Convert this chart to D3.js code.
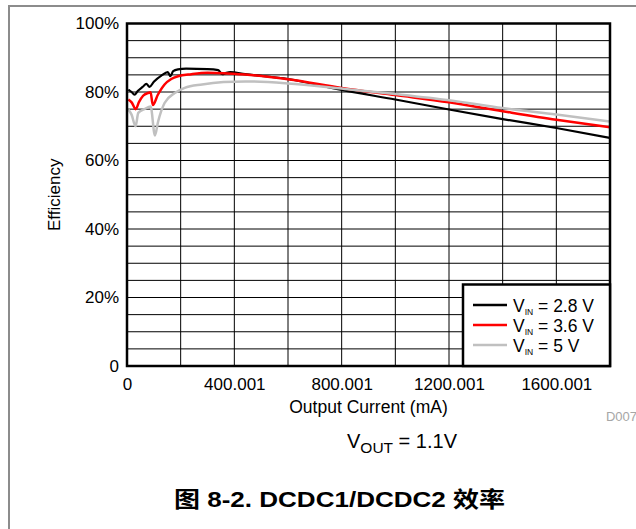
<!DOCTYPE html>
<html>
<head>
<meta charset="utf-8">
<script src="https://cdn.jsdelivr.net/npm/d3@7"></script>
<style>
  body { margin: 0; background: #fff; }
  svg text { font-family: "Liberation Sans", Arial, sans-serif; fill: #000; }
</style>
</head>
<body>
<svg id="chart" width="636" height="529"></svg>
<script>
// efficiency curves, [output current mA, efficiency %]
var vin28 = [[5,80.7],[17,80.0],[28,79.2],[40,80.3],[60,81.6],[72,82.4],[84,81.5],[100,83.0],[128,84.8],
    [152,85.8],[162,84.6],[172,86.1],[190,86.6],[220,86.8],[300,86.7],[340,86.4],[355,85.2],[370,85.6],
    [385,85.8],[440,85.2],[600,83.8],[800,80.6],[1000,77.8],[1200,74.9],[1400,72.1],[1600,69.5],[1800,66.6]];
var vin36 = [[5,77.8],[18,76.9],[32,75.0],[45,77.1],[60,78.9],[78,79.7],[88,79.9],[96,76.2],[115,79.2],
    [140,82.2],[165,83.8],[190,84.6],[240,85.2],[300,85.6],[360,85.5],[440,85.1],[600,83.7],[800,81.2],
    [1000,79.1],[1200,77.0],[1400,74.4],[1600,71.9],[1800,69.7]];
var vin50 = [[5,74.9],[17,73.4],[32,70.0],[42,73.9],[65,75.0],[88,75.8],[104,67.3],[116,71.4],[140,76.8],
    [178,79.7],[215,81.2],[280,82.2],[360,82.9],[440,83.1],[600,82.5],[800,81.0],[1000,79.4],[1200,77.6],
    [1400,75.3],[1600,73.4],[1800,71.4]];

var seriesNames = ["2.8 V", "3.6 V", "5 V"];
var seriesColors = ["#000000", "#ff0000", "#c0c0c0"];

var xTicks = [0, 400.001, 800.001, 1200.001, 1600.001];
var yTicks = [0, 20, 40, 60, 80, 100];

var svg = d3.select("#chart");

// outer frame of the figure
svg.append("path")
    .attr("d", "M9,529 V6 H636")
    .attr("fill", "none")
    .attr("stroke", "#8c8c8c")
    .attr("stroke-width", 2);

// plot area (not "top": that name is taken by window.top)
var pL = 127, pR = 610, pT = 23.5, pB = 366;

var x = d3.scaleLinear().domain([0, 1800]).range([pL, pR]);
var y = d3.scaleLinear().domain([0, 100]).range([pB, pT]);

// grid
svg.append("g").selectAll("line").data(d3.range(200, 1800, 200)).enter()
    .append("line")
    .attr("x1", function(d){ return x(d); }).attr("x2", function(d){ return x(d); })
    .attr("y1", pT).attr("y2", pB)
    .attr("stroke", "#000").attr("stroke-width", 1);
svg.append("g").selectAll("line").data(d3.range(5, 100, 5)).enter()
    .append("line")
    .attr("y1", function(d){ return y(d); }).attr("y2", function(d){ return y(d); })
    .attr("x1", pL).attr("x2", pR)
    .attr("stroke", "#000").attr("stroke-width", 1);

// curves
var line = d3.line()
    .x(function(d){ return x(d[0]); })
    .y(function(d){ return y(d[1]); })
    .curve(d3.curveMonotoneX);

[vin28, vin36, vin50].forEach(function(s, i){
    svg.append("path")
        .datum(s)
        .attr("d", line)
        .attr("fill", "none")
        .attr("stroke", seriesColors[i])
        .attr("stroke-width", i == 0 ? 2.2 : 2.5)
        .attr("stroke-linejoin", "round");
});

// axes labels
var xAxis = d3.axisBottom(x).tickValues(xTicks).tickSize(0).tickPadding(12)
    .tickFormat(function(d){ return d == 0 ? "0" : d3.format(".3f")(d); });
var gx = svg.append("g").attr("transform", "translate(0," + pB + ")").call(xAxis);
gx.select(".domain").remove();
gx.selectAll("text").attr("font-size", 17).attr("font-family", "Liberation Sans, Arial, sans-serif").attr("fill", "#000");

var yAxis = d3.axisLeft(y).tickValues(yTicks).tickSize(0).tickPadding(8)
    .tickFormat(function(d){ return d == 0 ? "0" : d + "%"; });
var gy = svg.append("g").attr("transform", "translate(" + pL + ",0)").call(yAxis);
gy.select(".domain").remove();
gy.selectAll("text").attr("font-size", 17).attr("font-family", "Liberation Sans, Arial, sans-serif").attr("fill", "#000");

// plot border
svg.append("rect")
    .attr("x", pL).attr("y", pT)
    .attr("width", pR - pL).attr("height", pB - pT)
    .attr("fill", "none").attr("stroke", "#000").attr("stroke-width", 2.5);

svg.append("text")
    .attr("x", (pL + pR) / 2).attr("y", 413)
    .attr("text-anchor", "middle").attr("font-size", 17.5)
    .text("Output Current (mA)");

svg.append("text")
    .attr("transform", "translate(60," + (pT + pB) / 2 + ") rotate(-90)")
    .attr("text-anchor", "middle").attr("font-size", 17)
    .text("Efficiency");

svg.append("text")
    .attr("x", 637).attr("y", 421)
    .attr("text-anchor", "end").attr("font-size", 13)
    .style("fill", "#a6a6a6")
    .text("D007");

// legend
var lg = svg.append("g");
lg.append("rect")
    .attr("x", 463).attr("y", 284.5)
    .attr("width", pR - 463).attr("height", pB - 284.5)
    .attr("fill", "#fff").attr("stroke", "#000").attr("stroke-width", 2.5);

seriesNames.forEach(function(name, i){
    var ly = 305 + i * 20;
    lg.append("line")
        .attr("x1", 473).attr("x2", 507)
        .attr("y1", ly).attr("y2", ly)
        .attr("stroke", seriesColors[i]).attr("stroke-width", 2.5);
    var t = lg.append("text").attr("x", 513).attr("y", ly + 6.5).attr("font-size", 17.5);
    t.append("tspan").text("V");
    t.append("tspan").attr("font-size", 8.5).attr("dy", 3).text("IN");
    t.append("tspan").attr("dy", -3).text(" = " + name);
});

// Vout note
var vt = svg.append("text").attr("x", 402).attr("y", 448)
    .attr("text-anchor", "middle").attr("font-size", 20);
vt.append("tspan").text("V");
vt.append("tspan").attr("font-size", 15.5).attr("dy", 5).text("OUT");
vt.append("tspan").attr("dy", -5).text(" = 1.1V");

// caption
svg.append("text")
    .attr("x", 174).attr("y", 507)
    .attr("font-size", 21.5).attr("font-weight", "bold")
    .attr("textLength", 331).attr("lengthAdjust", "spacingAndGlyphs")
    .style("font-family", "'Liberation Sans', Arial, 'Noto Sans CJK SC', sans-serif")
    .text("图 8-2. DCDC1/DCDC2 效率");
</script>
</body>
</html>
